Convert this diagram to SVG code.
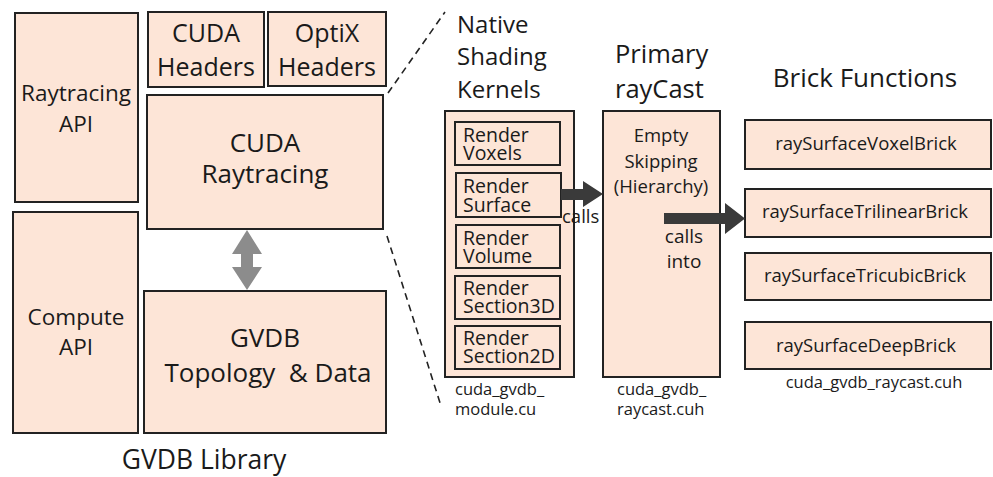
<svg xmlns="http://www.w3.org/2000/svg" width="993" height="477" viewBox="0 0 993 477">
<style>
.box{fill:#fde5d7;stroke:#222;stroke-width:2}
.t{font-family:"Open Sans","Liberation Sans",sans-serif;fill:#1a1a1a}
.c{text-anchor:middle}
.dash{stroke:#222;stroke-width:1.6;stroke-dasharray:7 5;fill:none}
</style>
<rect width="993" height="477" fill="#fff"/>
<g id="raytracing-api"><rect class="box" x="15" y="13" width="123" height="189"/>
<text class="t c" font-size="22.5"><tspan x="76" y="101">Raytracing</tspan><tspan x="76" y="132">API</tspan></text></g>
<g id="compute-api"><rect class="box" x="13" y="212" width="125" height="221"/>
<text class="t c" font-size="22.5"><tspan x="76" y="325">Compute</tspan><tspan x="76" y="355">API</tspan></text></g>
<g id="cuda-headers"><rect class="box" x="148" y="12" width="116" height="75"/>
<text class="t c" font-size="25"><tspan x="206" y="42">CUDA</tspan><tspan x="206" y="76">Headers</tspan></text></g>
<g id="optix-headers"><rect class="box" x="268" y="12" width="118" height="74"/>
<text class="t c" font-size="25"><tspan x="327" y="42">OptiX</tspan><tspan x="327" y="76">Headers</tspan></text></g>
<g id="cuda-raytracing"><rect class="box" x="147" y="95" width="236" height="134"/>
<text class="t c" font-size="26"><tspan x="265" y="152">CUDA</tspan><tspan x="265" y="183">Raytracing</tspan></text></g>
<g id="gvdb-topology"><rect class="box" x="144" y="291" width="242" height="142"/>
<text class="t c" font-size="26" xml:space="preserve"><tspan x="265" y="347">GVDB</tspan><tspan x="268" y="382">Topology  &amp; Data</tspan></text></g>
<text class="t c" font-size="26.5" x="204" y="469">GVDB Library</text>

<g id="module"><rect class="box" x="445" y="111" width="129" height="266"/>
<text class="t" font-size="24"><tspan x="457" y="33">Native</tspan><tspan x="457" y="65">Shading</tspan><tspan x="457" y="98">Kernels</tspan></text>
<text class="t" font-size="16.5"><tspan x="455" y="395">cuda_gvdb_</tspan><tspan x="455" y="415">module.cu</tspan></text></g>
<g id="render-voxels"><rect class="box" x="455" y="122" width="105" height="43"/>
<text class="t" font-size="19.5"><tspan x="463" y="142">Render</tspan><tspan x="463" y="160">Voxels</tspan></text></g>
<g id="render-surface"><rect class="box" x="456" y="173" width="105" height="44"/>
<text class="t" font-size="19.5"><tspan x="463" y="193">Render</tspan><tspan x="463" y="212">Surface</tspan></text></g>
<g id="render-volume"><rect class="box" x="456" y="225" width="104" height="43"/>
<text class="t" font-size="19.5"><tspan x="463" y="245">Render</tspan><tspan x="463" y="263">Volume</tspan></text></g>
<g id="render-section3d"><rect class="box" x="455" y="276" width="105" height="43"/>
<text class="t" font-size="19.5"><tspan x="463" y="295">Render</tspan><tspan x="463" y="313">Section3D</tspan></text></g>
<g id="render-section2d"><rect class="box" x="455" y="326" width="105" height="43"/>
<text class="t" font-size="19.5"><tspan x="463" y="345">Render</tspan><tspan x="463" y="363">Section2D</tspan></text></g>

<g id="primary-raycast"><rect class="box" x="603" y="111" width="117" height="266"/>
<text class="t" font-size="25.5"><tspan x="615" y="63">Primary</tspan><tspan x="615" y="98">rayCast</tspan></text>
<text class="t c" font-size="18.5"><tspan x="661" y="142">Empty</tspan><tspan x="661" y="168">Skipping</tspan><tspan x="661" y="193">(Hierarchy)</tspan></text>
<text class="t" font-size="16.5"><tspan x="617" y="395">cuda_gvdb_</tspan><tspan x="617" y="415">raycast.cuh</tspan></text></g>

<text class="t c" font-size="26" x="865" y="87">Brick Functions</text>
<g id="brick-voxel"><rect class="box" x="745" y="120" width="246" height="49"/><text class="t c" font-size="18.5" x="866" y="150">raySurfaceVoxelBrick</text></g>
<g id="brick-trilinear"><rect class="box" x="745" y="189" width="246" height="48"/><text class="t c" font-size="18.5" x="865" y="218">raySurfaceTrilinearBrick</text></g>
<g id="brick-tricubic"><rect class="box" x="745" y="253" width="246" height="47"/><text class="t c" font-size="18.5" x="865" y="282">raySurfaceTricubicBrick</text></g>
<g id="brick-deep"><rect class="box" x="745" y="322" width="246" height="47"/><text class="t c" font-size="18.5" x="866" y="352">raySurfaceDeepBrick</text></g>
<text class="t c" font-size="16.5" x="874" y="388">cuda_gvdb_raycast.cuh</text>

<g id="connectors">
<path d="M247 230 L262 254 L253 254 L253 267 L262 267 L247 290 L232 267 L241 267 L241 254 L232 254 Z" fill="#8c8c8c"/>
<path d="M561 189 L583 189 L583 181 L603 194 L583 207 L583 200 L561 200 Z" fill="#3a3a3a"/>
<text class="t" font-size="18.5" x="562" y="223">calls</text>
<path d="M664 213 L725 213 L725 203 L745 218.5 L725 234 L725 224 L664 224 Z" fill="#3a3a3a"/>
<text class="t c" font-size="19"><tspan x="684" y="243">calls</tspan><tspan x="684" y="268">into</tspan></text>
<line class="dash" x1="388" y1="93" x2="445" y2="12"/>
<line class="dash" x1="387" y1="236" x2="441" y2="406"/>
</g>
</svg>
